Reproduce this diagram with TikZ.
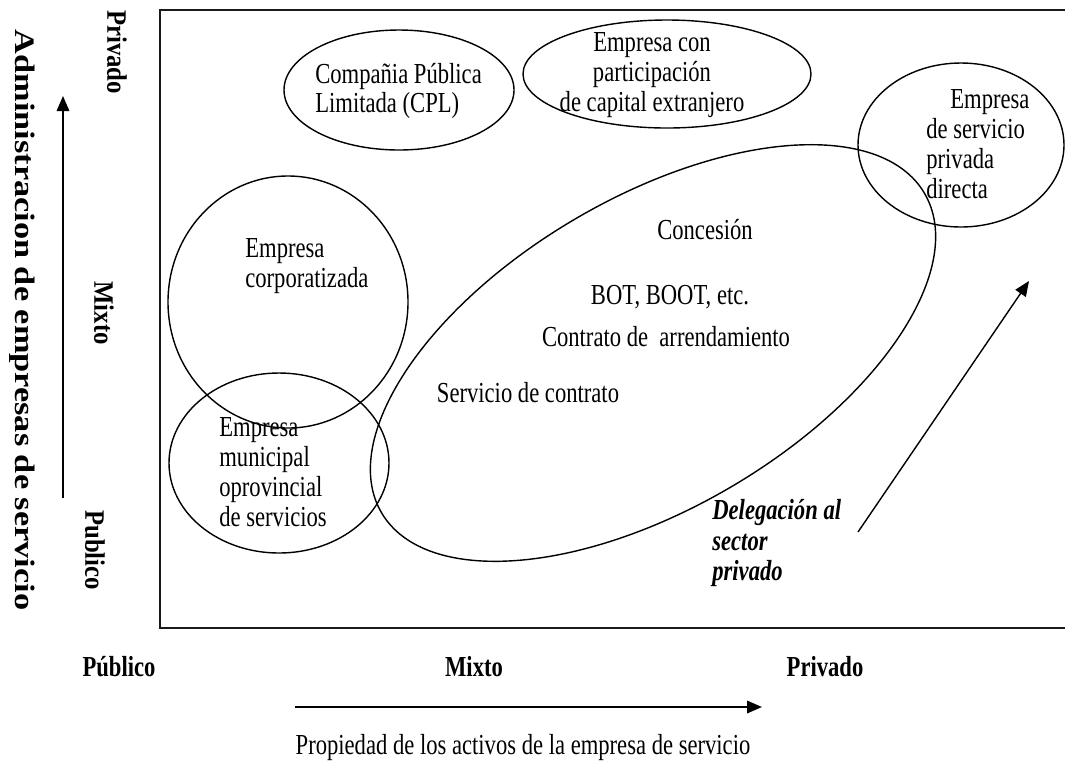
\documentclass[tikz,border=0pt]{standalone}
\usepackage{fontspec}
\setmainfont{Liberation Serif}[FakeStretch=0.78]
\newfontfamily\axisfont{Liberation Serif}[FakeStretch=0.88]
\newfontfamily\widefont{Liberation Serif}[FakeStretch=1.22]
\usetikzlibrary{arrows.meta}

\begin{document}
\begin{tikzpicture}[x=0.02cm, y=-0.02cm,
  lbl/.style={inner sep=0pt, font=\fontsize{16.5}{17}\selectfont},
  boldlbl/.style={inner sep=0pt, font=\fontsize{16.5}{17.5}\selectfont\bfseries},
  axislbl/.style={inner sep=0pt, font=\axisfont\fontsize{16}{16}\selectfont\bfseries, rotate=-90},
  blob/.style={draw, line width=0.8pt},
  axisarrow/.style={-{Triangle[length=0.3cm, width=0.25cm]}, line width=1pt}]

\definecolor{frameColor}{HTML}{1A1A1A}
\useasboundingbox (0,0) rectangle (1065,769);

% Frame (right side runs off the page)
\draw[frameColor, line width=1.1pt] (1075,10) -- (160,10) -- (160,628) -- (1075,628);

% Compania Publica Limitada
\draw[blob] (399,90) ellipse [x radius=115, y radius=60];
\node (cpl) at (315,91) [lbl, anchor=west, align=left] {Compañia Pública\\Limitada (CPL)};

% Empresa con capital extranjero
\draw[blob] (667,74) ellipse [x radius=144, y radius=54];
\node (extranjero) at (652,75) [lbl, align=center] {Empresa con\\participación\\de capital extranjero};

% Empresa privada directa
\draw[blob] (961,145) ellipse [x radius=103, y radius=82];
\node (privada) at (926,144) [lbl, anchor=west, align=left] {\hspace*{0.48cm}Empresa\\de servicio\\privada\\directa};

% Empresa corporatizada
\draw[blob] (288,302) ellipse [x radius=120, y radius=126];
\node (corporatizada) at (245,266) [lbl, anchor=west, align=left] {Empresa\\corporatizada};

% Empresa municipal
\draw[blob] (279,463) ellipse [x radius=110, y radius=90];
\node (municipal) at (219,472) [lbl, anchor=west, align=left] {Empresa\\municipal\\oprovincial\\de servicios};

% Delegation ellipse (tilted)
\draw[blob, rotate around={30.5:(653,353)}] (653,353) ellipse [x radius=315, y radius=155];
\node (concesion) at (705,230) [lbl] {Concesión};
\node (bot) at (670,297) [lbl] {BOT, BOOT, etc.};
\node (arrendamiento) at (666,337) [lbl] {Contrato de~ arrendamiento};
\node (servicio) at (528,393) [lbl] {Servicio de contrato};

% Delegacion al sector privado
\node (delegacion) at (712,543) [inner sep=0pt, anchor=west, align=left, font=\fontsize{16.5}{17.5}\selectfont\bfseries\itshape] {Delegación al\\sector\\privado};
\coordinate (delStart) at (858,532);
\coordinate (delEnd) at (1029,281);
\draw[axisarrow, line width=0.8pt] (delStart) -- (delEnd);

% Vertical axis
\node (admin) at (22,320) [inner sep=0pt, rotate=-90, font=\widefont\fontsize{16}{16}\selectfont\bfseries] {Administracion de empresas de servicio};
\node (vPrivado) at (117,52) [axislbl] {Privado};
\node (vMixto) at (104,313) [axislbl] {Mixto};
\node (vPublico) at (95,550) [axislbl] {Publico};
\coordinate (vStart) at (63,498);
\coordinate (vEnd) at (63,96);
\draw[axisarrow] (vStart) -- (vEnd);

% Horizontal axis
\node (hPublico) at (119,667) [boldlbl] {Público};
\node (hMixto) at (474,667) [boldlbl] {Mixto};
\node (hPrivado) at (825,667) [boldlbl] {Privado};
\coordinate (hStart) at (295,707);
\coordinate (hEnd) at (762,707);
\draw[axisarrow] (hStart) -- (hEnd);
\node (propiedad) at (523,748) [lbl] {Propiedad de los activos de la empresa de servicio};

\end{tikzpicture}
\end{document}
